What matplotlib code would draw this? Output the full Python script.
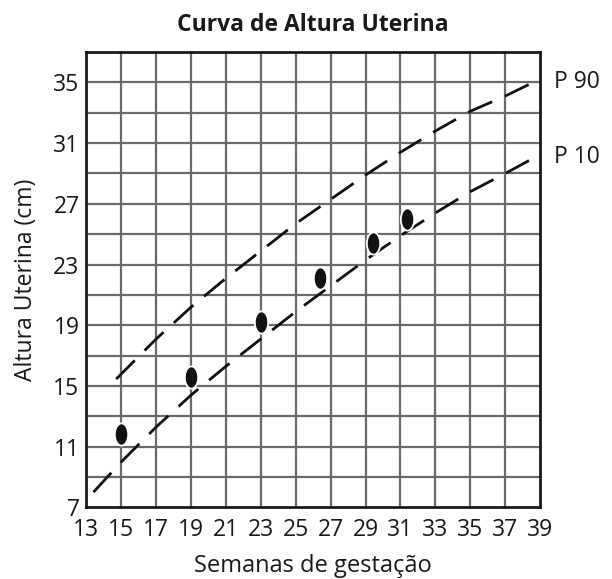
import numpy as np
import matplotlib
matplotlib.use("Agg")
import matplotlib.pyplot as plt
from matplotlib.path import Path

plt.rcParams['font.family'] = ['Open Sans', 'DejaVu Sans']

# Data
semanas = [15, 19, 23, 26.4, 29.4, 31.4]
altura = [11.8, 15.6, 19.2, 22.1, 24.4, 26.0]

p10_x = [13.4, 15, 17, 19, 21, 23, 25, 27, 29, 31, 33, 35, 37, 38.6]
p10_y = [8.0, 10.0, 12.3, 14.4, 16.3, 18.1, 19.9, 21.6, 23.3, 24.9, 26.4, 27.8, 29.0, 30.0]

p90_x = [14.7, 17, 19, 21, 23, 25, 27, 29, 31, 33, 35, 37, 38.6]
p90_y = [15.45, 18.1, 20.2, 22.1, 23.9, 25.7, 27.3, 28.9, 30.4, 31.8, 33.1, 34.1, 35.0]

xticks = list(range(13, 40, 2))
yticks = list(range(7, 36, 4))

fig = plt.figure(figsize=(6.12, 5.79), dpi=100)
ax = fig.add_axes([0.1413, 0.1238, 0.7411, 0.7862])
ax.set_xlim(13, 39)
ax.set_ylim(7, 37)

# grid
for gx in range(15, 39, 2):
    ax.axvline(gx, color='#6a6a6a', lw=1.6, zorder=1)
for gy in range(9, 37, 2):
    ax.axhline(gy, color='#6a6a6a', lw=1.6, zorder=1)

for s in ax.spines.values():
    s.set_linewidth(2.0)
    s.set_color('#1a1a1a')
    s.set_zorder(5)

ax.set_xticks(xticks)
ax.set_yticks(yticks)
ax.tick_params(length=0, labelsize=16.5, colors='#1a1a1a')
ax.tick_params(axis='x', pad=8)
ax.tick_params(axis='y', pad=5)

for xs, ys in [(p10_x, p10_y), (p90_x, p90_y)]:
    ax.plot(xs, ys, color='#111111', lw=2.0, dashes=(9.5, 5.0),
            solid_capstyle='butt', dash_capstyle='butt', zorder=3)

# ellipse marker
t = np.linspace(0, 2 * np.pi, 60)
ell = Path(np.column_stack([0.6 * np.cos(t), np.sin(t)]), closed=True)
ax.plot(semanas, altura, linestyle='none', marker=ell, markersize=16,
        markerfacecolor='#111111', markeredgecolor='white', markeredgewidth=1.3,
        zorder=4)

ax.text(1.03, (35 - 7) / 30, 'P 90', transform=ax.transAxes, fontsize=16.5,
        va='center', ha='left', color='#1a1a1a')
ax.text(1.03, (30.06 - 7) / 30, 'P 10', transform=ax.transAxes, fontsize=16.5,
        va='center', ha='left', color='#1a1a1a')

fig.text(0.5106, 1 - 31 / 579, 'Curva de Altura Uterina', fontsize=16.5,
         fontweight='bold', ha='center', va='baseline', color='#1a1a1a')
fig.text(0.512, 1 - 572 / 579, 'Semanas de gestação', fontsize=17,
         ha='center', va='baseline', color='#1a1a1a')
fig.text(0.042, 1 - 280 / 579, 'Altura Uterina (cm)', fontsize=16.5,
         ha='center', va='center', rotation=90, color='#1a1a1a')

fig.savefig('out.png', dpi=100)
